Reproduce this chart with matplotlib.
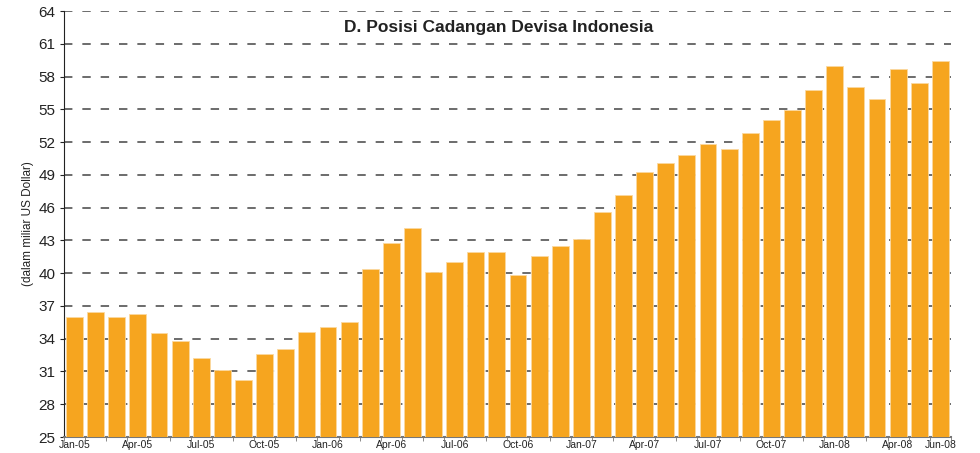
import matplotlib
matplotlib.use("Agg")
import matplotlib.pyplot as plt
import numpy as np

plt.rcParams['font.family'] = ['Liberation Sans', 'DejaVu Sans']

months = ["Jan", "Feb", "Mar", "Apr", "May", "Jun", "Jul", "Aug", "Sep", "Oct", "Nov", "Dec"]
periods = [f"{m}-{y:02d}" for y in range(5, 9) for m in months][:42]

# reserves, billion USD
reserves = [36.0, 36.4, 36.0, 36.3, 34.5, 33.8, 32.2, 31.1, 30.25, 32.6, 33.1, 34.6,
            35.1, 35.5, 40.4, 42.75, 44.1, 40.1, 41.0, 41.9, 41.9, 39.8, 41.55, 42.5,
            43.15, 45.6, 47.2, 49.25, 50.1, 50.8, 51.8, 51.35, 52.85, 54.0, 54.9, 56.8,
            58.95, 57.0, 55.9, 58.7, 57.4, 59.4]

label_idx = list(range(0, 42, 3)) + [41]
yticks = np.arange(25, 65, 3)

fig = plt.figure(figsize=(9.8, 4.53), dpi=100)
ax = fig.add_axes([0.0653, 0.0353, 0.905, 0.9404])

x = np.arange(len(reserves))
ax.bar(x, reserves, width=0.8, color="#F6A51F", edgecolor="#FBD9A0", linewidth=0.6, zorder=3)

ax.set_ylim(25, 64)
ax.set_xlim(-0.5, 41.5)
ax.set_yticks(yticks)
for v in yticks:
    ax.axhline(v, color="#444444", linestyle=(0, (5.5, 6.5)), linewidth=1.1, zorder=1)

ax.set_xticks(label_idx)
ax.set_xticklabels([periods[i] for i in label_idx], fontsize=7.5, color="#222222")
ax.set_xticks(np.arange(-0.5, 42, 1), minor=True)
ax.tick_params(axis="x", which="major", length=0, pad=2.5)
ax.tick_params(axis="x", which="minor", length=3, color="#777777", direction="out")
ax.tick_params(axis="y", length=3, color="#222222", labelsize=11, labelcolor="#222222", pad=3)

for s in ["top", "right"]:
    ax.spines[s].set_visible(False)
ax.spines["left"].set_color("#222222")
ax.spines["bottom"].set_color("#777777")
ax.spines["bottom"].set_linewidth(1.5)

ax.set_ylabel("(dalam miliar US Dollar)", fontsize=8.5, color="#222222", labelpad=3)
ax.text(0.49, 0.962, "D. Posisi Cadangan Devisa Indonesia", transform=ax.transAxes,
        ha="center", va="center", fontsize=12.5, fontweight="bold", color="#222222", zorder=5)

fig.savefig("out.png", dpi=100)
